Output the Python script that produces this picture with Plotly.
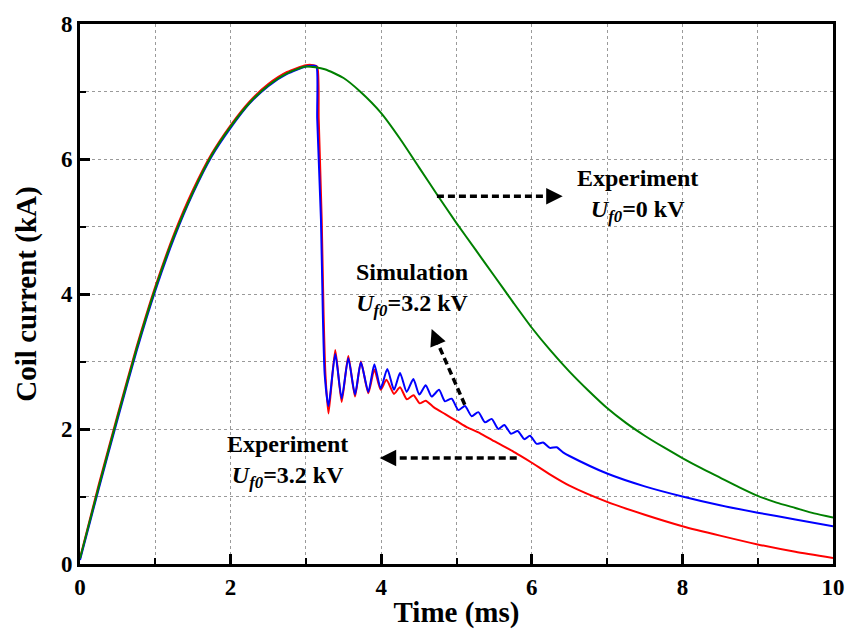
import plotly.graph_objects as go

# ---------------- data ----------------
# Experiment, U_f0 = 0 kV (green)
t_exp0 = [0, 0.25, 0.5, 0.75, 1.0, 1.25, 1.5, 1.75, 2.0, 2.25, 2.5, 2.75, 3.0,
          3.25, 3.5, 3.72, 4.0, 4.25, 4.5, 4.75, 5.0, 5.25, 5.5, 5.75, 6.0,
          6.25, 6.5, 6.75, 7.0, 7.25, 7.5, 7.75, 8.0, 8.25, 8.5, 8.75, 9.0,
          9.25, 9.5, 9.75, 10.0]
i_exp0 = [0.08, 1.15, 2.18, 3.18, 4.08, 4.86, 5.51, 6.06, 6.48, 6.83, 7.09, 7.27, 7.37,
          7.33, 7.2, 7.0, 6.68, 6.3, 5.88, 5.46, 5.05, 4.66, 4.27, 3.88, 3.5,
          3.16, 2.85, 2.57, 2.31, 2.09, 1.9, 1.73, 1.57, 1.42, 1.28, 1.14, 1.01,
          0.91, 0.83, 0.75, 0.69]

# Experiment, U_f0 = 3.2 kV (red)
t_exp32 = [0, 0.25, 0.5, 0.75, 1.0, 1.25, 1.5, 1.75, 2.0, 2.25, 2.5, 2.75, 3.0, 3.1,
           3.15, 3.17, 3.21, 3.235, 3.26, 3.30,
           3.39, 3.475, 3.563, 3.652, 3.73, 3.829, 3.909, 3.993, 4.07, 4.17, 4.25,
           4.34, 4.43, 4.51, 4.59, 4.70, 4.85, 5.0, 5.15, 5.31, 5.5, 5.75, 5.84,
           6.0, 6.25, 6.5, 7.0, 7.5, 8.0, 8.5, 9.0, 9.5, 10.0]
i_exp32 = [0.09, 1.18, 2.21, 3.21, 4.11, 4.89, 5.54, 6.08, 6.5, 6.85, 7.11, 7.29, 7.39, 7.39,
           7.37, 6.6, 5.1, 3.7, 2.8, 2.23,
           3.17, 2.40, 3.08, 2.48, 3.0, 2.53, 2.88, 2.58, 2.73, 2.52, 2.62,
           2.44, 2.50, 2.38, 2.42, 2.32, 2.22, 2.12, 2.02, 1.94, 1.82, 1.67, 1.61,
           1.50, 1.32, 1.16, 0.92, 0.73, 0.56, 0.42, 0.29, 0.18, 0.09]

# Simulation, U_f0 = 3.2 kV (blue)
t_sim = [0, 0.25, 0.5, 0.75, 1.0, 1.25, 1.5, 1.75, 2.0, 2.25, 2.5, 2.75, 3.0, 3.1,
         3.14, 3.15, 3.20, 3.225, 3.25, 3.30,
         3.39, 3.475, 3.563, 3.652, 3.73, 3.829, 3.909, 3.993, 4.081, 4.170, 4.250,
         4.338, 4.427, 4.506, 4.591, 4.670, 4.768, 4.847, 4.936, 5.024, 5.113,
         5.201, 5.290, 5.378, 5.467, 5.555, 5.635, 5.724, 5.813, 5.901, 5.976,
         6.065, 6.15, 6.24, 6.33, 6.42, 6.5, 7.0, 7.5, 8.0, 8.5, 9.0, 9.5, 10.0]
i_sim = [0.06, 1.12, 2.15, 3.15, 4.05, 4.83, 5.49, 6.04, 6.46, 6.82, 7.08, 7.26, 7.37, 7.38,
         7.37, 6.6, 5.1, 3.7, 2.8, 2.34,
         3.11, 2.45, 3.05, 2.51, 2.99, 2.55, 2.96, 2.60, 2.89, 2.58, 2.83,
         2.55, 2.74, 2.51, 2.65, 2.48, 2.58, 2.41, 2.45, 2.28, 2.34,
         2.19, 2.25, 2.10, 2.15, 2.00, 2.06, 1.93, 1.97, 1.85, 1.90,
         1.78, 1.80, 1.72, 1.73, 1.65, 1.60, 1.34, 1.15, 1.0, 0.87, 0.76, 0.66, 0.56]

x_ticks = [0, 2, 4, 6, 8, 10]
y_ticks = [0, 2, 4, 6, 8]
x_title = "Time (ms)"
y_title = "Coil current (kA)"

# labels: (text, x, y)
labels = [
    ("Experiment<br><i>U<sub>f0</sub></i>=0 kV", 7.40, 5.46),
    ("Simulation<br><i>U<sub>f0</sub></i>=3.2 kV", 4.42, 4.06),
    ("Experiment<br><i>U<sub>f0</sub></i>=3.2 kV", 2.75, 1.52),
]
# dashed arrows: (tail_x, tail_y, head_x, head_y, head_ax_px, head_ay_px)
arrows = [
    (4.74, 5.45, 6.30, 5.45, -12, 0),
    (5.11, 2.36, 4.72, 3.35, 5, 12),
    (5.80, 1.57, 4.10, 1.57, 12, 0),
]
arrow_heads = [(6.41, 5.45), (4.67, 3.48), (3.98, 1.57)]

FONT = "Liberation Serif, Times New Roman, serif"

fig = go.Figure()
fig.add_trace(go.Scatter(x=t_exp32, y=i_exp32, mode="lines",
                         line=dict(color="#ff0000", width=2, shape="spline", smoothing=0.6),
                         name="Experiment 3.2 kV"))
fig.add_trace(go.Scatter(x=t_sim, y=i_sim, mode="lines",
                         line=dict(color="#0000ff", width=2, shape="spline", smoothing=0.6),
                         name="Simulation 3.2 kV"))
fig.add_trace(go.Scatter(x=t_exp0, y=i_exp0, mode="lines",
                         line=dict(color="#008000", width=2, shape="spline", smoothing=0.6),
                         name="Experiment 0 kV"))

for (x0, y0, x1, y1, _, _) in arrows:
    fig.add_shape(type="line", x0=x0, y0=y0, x1=x1, y1=y1, xref="x", yref="y",
                  line=dict(color="black", width=3.5, dash="7px,4px"))
for (hx, hy), a in zip(arrow_heads, arrows):
    fig.add_annotation(x=hx, y=hy, ax=a[4], ay=a[5], text="", showarrow=True,
                       arrowhead=2, arrowsize=1.1, arrowwidth=3, arrowcolor="black")

for text, x, y in labels:
    fig.add_annotation(x=x, y=y, text=text, showarrow=False,
                       font=dict(family=FONT, size=24, color="black", weight="bold"),
                       align="center")

axis_common = dict(
    showline=True, linewidth=3, linecolor="black", mirror=True,
    ticks="inside", ticklen=10, tickwidth=3, tickcolor="black",
    showgrid=True, gridcolor="#9a9a9a", gridwidth=1, griddash="dot",
    zeroline=False,
    tickfont=dict(family=FONT, size=23, color="black", weight="bold"),
    minor=dict(dtick=1, ticks="inside", ticklen=6, tickwidth=2, tickcolor="black",
               showgrid=True, gridcolor="#9a9a9a", gridwidth=1, griddash="dot"),
)

fig.update_xaxes(range=[0, 10], tickvals=x_ticks, ticktext=[str(v) for v in x_ticks],
                 title=dict(text=x_title, standoff=4,
                            font=dict(family=FONT, size=29, color="black", weight="bold")),
                 **axis_common)
fig.update_yaxes(range=[0, 8], tickvals=y_ticks, ticktext=[str(v) for v in y_ticks],
                 title=dict(text=y_title, standoff=16,
                            font=dict(family=FONT, size=29, color="black", weight="bold")),
                 **axis_common)

fig.update_layout(width=861, height=636, showlegend=False,
                  plot_bgcolor="white", paper_bgcolor="white",
                  margin=dict(l=80, r=28, t=22, b=66))

fig.write_html("out.html")
